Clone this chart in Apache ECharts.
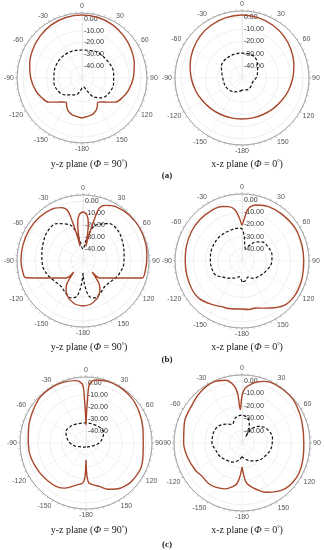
<!DOCTYPE html>
<html><head><meta charset="utf-8">
<script src="https://cdn.jsdelivr.net/npm/echarts@6/dist/echarts.min.js"></script>
<style>html,body{margin:0;padding:0;background:#fff}#c{width:324px;height:550px}</style>
</head><body><div id="c"></div>
<script>
// radius (dB) tick labels shown along the 0° spoke
const radiusTickLabels = [0, -10, -20, -30, -40];
const dbMin = -50, dbMax = 5, dbStep = 10;
const angleStep = 30;

// ---- (a) y-z plane ----
const aYZ_coAng = [-180,-165,-158,-152,-147,-142,-135,-126,-115,-105,-90,-75,-60,-45,-30,-15,0,15,30,45,60,75,90,105,115,126,135,142,147,152,158,165,180];
const aYZ_coDb  = [-16.2,-17.8,-19.5,-22.5,-25.5,-24.2,-21.2,-15.3,-11.8,-9.3,-6.6,-4.2,-1.9,0.2,1.9,3.0,3.3,3.0,1.9,0.2,-1.9,-4.2,-6.6,-9.3,-11.8,-15.3,-21.2,-24.2,-25.5,-22.5,-19.5,-17.8,-16.2];
const aYZ_xAng  = [-180,-170,-160,-147,-135,-120,-100,-80,-60,-40,-20,0,12,30,60,81,100,119,135,148,160,170,180];
const aYZ_xDb   = [-41.5,-38,-34.8,-33,-29.7,-27.2,-25.9,-26,-25.5,-25.5,-25.8,-26.3,-26,-24.6,-23.8,-22.9,-22.9,-23.8,-26.3,-31,-39,-42.4,-41.5];
// ---- (a) x-z plane ----
const aXZ_coAng = [-180,-165,-150,-135,-120,-105,-90,-75,-60,-45,-30,-15,0,15,30,45,60,75,90,105,120,135,150,165,180];
const aXZ_coDb  = [-16.3,-16.1,-15.4,-14.2,-12.6,-10.5,-8.3,-5.9,-3.5,-1.4,0.2,1.3,1.7,1.3,0.2,-1.4,-3.5,-5.9,-8.3,-10.5,-12.6,-14.2,-15.4,-16.1,-16.3];
const aXZ_xAng  = [-180,-170,-150,-120,-90,-60,-30,0,30,55,75,90,110,130,153,180];
const aXZ_xDb   = [-40.1,-38.9,-36.9,-34.9,-34.2,-30.5,-29.5,-29.5,-29.7,-34.4,-36.9,-38.5,-40.6,-40.1,-39.3,-40.1];
// ---- (b) y-z plane ----
const bYZ_coAng = [-180,-170,-160,-155,-150,-145,-143,-140,-135,-130,-125,-120,-115,-110,-106,-100,-90,-75,-60,-45,-31,-22,-17,-15,-13,-11,-8,-5,0,5,8,11,13,15,17,22,31,45,60,75,87,100,106,110,115,120,125,130,135,140,143,145,150,155,160,170,180];
const bYZ_coDb  = [-12.5,-13.4,-16.4,-18.7,-21.8,-26.3,-31,-38,-30,-28,-25.3,-21.7,-16.5,-8.6,0,1,1.7,1.8,1.8,1.5,0.5,-2,-6,-16.7,-27.5,-37.5,-18.3,-11.7,-9.2,-11.7,-18.3,-37.5,-27.5,-16.7,-4.2,0,2.8,4.3,4.7,4.2,3.3,2.5,1.3,-8.6,-16.5,-21.7,-25.3,-28,-30,-38,-31,-26.3,-21.8,-18.7,-16.4,-13.4,-12.5];
const bYZ_xAng  = [-180,-176,-170,-162,-150,-140,-125,-110,-95,-80,-65,-50,-35,-20,-10,0,10,20,35,50,65,80,95,110,117,125,140,150,162,170,176,180];
const bYZ_xDb   = [-40,-30,-20,-17.7,-20,-22,-21,-18,-16,-15.2,-13.5,-11.5,-12,-18,-30,-40,-30,-18,-12,-11.5,-13.5,-15.2,-16,-18,-19.2,-21,-22,-20,-17.7,-20,-30,-40];
// ---- (b) x-z plane ----
const bXZ_coAng = [-180,-172,-164,-156,-145,-131,-120,-105,-90,-75,-60,-45,-30,-20,-14,-8,-3,0,3,7,15,26,40,58,75,90,105,116,125,135,145,155,164,172,180];
const bXZ_coDb  = [-10.6,-10.2,-9.4,-9,-6.5,-3.2,-2.8,-3.2,-3.4,-2.8,-2,-1.6,-1.6,-2.4,-4,-7.3,-15.5,-20.4,-15.5,-6.5,-2.4,-0.3,0.5,1.3,0.9,0.7,1.3,1.7,1.7,0.7,-3.2,-7.3,-9.8,-9.8,-10.6];
const bXZ_xAng  = [-180,-170,-160,-142,-130,-118,-105,-90,-70,-50,-38,-20,-6,0,5,10,15,25,35,46,60,79,95,115,130,146,160,170,180];
const bXZ_xDb   = [-33,-36.9,-35.2,-32.1,-29.5,-25.4,-24.5,-24,-23.3,-22.9,-22.9,-22.9,-22.9,-23.7,-29.5,-36.9,-39.3,-36,-31.1,-27.3,-25.8,-24.9,-25.8,-29,-31.1,-32.8,-36,-33.6,-33];
// ---- (c) y-z plane ----
const cYZ_coAng = [-180,-179,-178,-176,-174,-167,-155,-146,-135,-123,-105,-90,-75,-60,-45,-30,-20,-10,-6,-3,-2,-1,0,1,2,3,6,10,20,30,45,60,75,90,105,116,130,136,145,155,162,170,174,176,178,179,180];
const cYZ_coDb  = [-36,-26.7,-21,-17,-16,-14,-8.5,-6.2,-5.2,-4.2,-2.5,-1.9,-0.5,1.5,4,4.5,4,2.8,1.5,-2,-14,-25,-35,-25,-14,-2,2,3.3,4.5,4.5,3.5,1.3,-1,-2.3,-1,0.3,-0.3,-1.3,-3.5,-7.5,-11.8,-14.5,-16,-16.7,-21,-26.7,-36];
const cYZ_xAng  = [-180,-165,-150,-135,-120,-105,-90,-75,-60,-45,-30,0,30,45,60,75,90,105,120,135,150,165,180];
const cYZ_xDb   = [-46.7,-46.5,-46,-45.3,-43.9,-40.5,-36.7,-33.5,-30.7,-31,-32,-33.3,-33,-32.7,-33,-36,-39,-42.5,-44.7,-45.8,-46.3,-46.5,-46.7];
// ---- (c) x-z plane ----
const cXZ_coAng = [-180,-177,-173,-168,-160,-149,-140,-130,-120,-105,-90,-70,-55,-40,-25,-15,-8,-5,-3,0,3,7,12,20,30,45,55,70,90,105,118,128,136,145,155,164,170,174,177,180];
const cXZ_coDb  = [-30.6,-24,-17,-14,-10.5,-8.3,-7.5,-8,-6.3,-4.5,-2.8,-0.5,0.5,3,4.5,2.5,-3,-10,-23,-12,-6,-3,0,3,4.5,4.5,3.6,1.5,0,1,2.2,2,1,-2,-6,-11.5,-15,-18,-24,-30.6];
const cXZ_xAng  = [-180,-170,-155,-139,-120,-105,-90,-70,-55,-40,-28,-15,0,15,25,30,35,45,60,80,100,115,136,155,170,180];
const cXZ_xDb   = [-39,-36,-33,-31.4,-29,-28,-25.7,-25.5,-26.5,-30,-33,-29,-27.5,-30,-36,-44,-36,-31,-27,-25,-26,-28,-30.5,-34,-37,-39];

const titlesYZ = 'y-z plane';
const titlesXZ = 'x-z plane';
const panelLabels = ['(a)', '(b)', '(c)'];

const panels = [
  {center:[82,78],  r:65, co:[aYZ_coAng,aYZ_coDb], x:[aYZ_xAng,aYZ_xDb]},
  {center:[242,78], r:67, co:[aXZ_coAng,aXZ_coDb], x:[aXZ_xAng,aXZ_xDb]},
  {center:[83,261], r:66, co:[bYZ_coAng,bYZ_coDb], x:[bYZ_xAng,bYZ_xDb]},
  {center:[242,261],r:67, co:[bXZ_coAng,bXZ_coDb], x:[bXZ_xAng,bXZ_xDb]},
  {center:[86,443], r:66, co:[cYZ_coAng,cYZ_coDb], x:[cYZ_xAng,cYZ_xDb]},
  {center:[242,443],r:68, co:[cXZ_coAng,cXZ_coDb], x:[cXZ_xAng,cXZ_xDb]}
];

function toData(ang, db){ return ang.map((a,i)=>[db[i], a<0 ? a+360 : a]); }

const polar=[], angleAxis=[], radiusAxis=[], series=[];
panels.forEach((p,i)=>{
  polar.push({center:p.center, radius:p.r});
  angleAxis.push({
    polarIndex:i, type:'value', min:0, max:360, interval:angleStep, startAngle:90, clockwise:true,
    axisLine:{lineStyle:{color:'#8a8a8a', width:0.8}},
    axisTick:{show:true, length:2, lineStyle:{color:'#8a8a8a', width:0.6}},
    minorTick:{show:true, splitNumber:6, length:2, lineStyle:{color:'#9a9a9a', width:0.5}},
    axisLabel:{fontSize:7, color:'#555', margin:3, fontFamily:'Liberation Sans',
      formatter:v=> (v>=180 ? String(v-360) : String(v))},
    splitLine:{show:true, lineStyle:{color:'#ececec', width:0.6}}
  });
  radiusAxis.push({
    polarIndex:i, type:'value', min:dbMin, max:dbMax, interval:dbStep,
    axisLine:{show:true, lineStyle:{color:'#dcdcdc', width:0.6}},
    axisTick:{show:false},
    axisLabel:{fontSize:7, color:'#333', margin:-2, align:'left', fontFamily:'Liberation Sans',
      formatter:v=> radiusTickLabels.indexOf(v)>=0 ? v.toFixed(2) : ''},
    splitLine:{show:true, lineStyle:{color:'#e4e4e4', width:0.6}}
  });
  series.push({type:'line', coordinateSystem:'polar', polarIndex:i, data:toData(p.x[0],p.x[1]),
    showSymbol:false, smooth:0.35, lineStyle:{color:'#111', width:1.2, type:[3,2]}, z:3});
  series.push({type:'line', coordinateSystem:'polar', polarIndex:i, data:toData(p.co[0],p.co[1]),
    showSymbol:false, smooth:0.35, lineStyle:{color:'#a8472c', width:1.4}, z:4});
});

const rich = {
  t:{fontFamily:'Liberation Serif', fontSize:10, fontWeight:'normal', color:'#222'},
  i:{fontFamily:'Liberation Serif', fontSize:10, fontWeight:'normal', fontStyle:'italic', color:'#222'},
  s:{fontFamily:'Liberation Serif', fontSize:6, fontWeight:'normal', color:'#222', verticalAlign:'top', padding:[0,0,5,0]}
};
const rowTitleY = [154, 337, 520];
const rowLabelY = [166, 350, 535];
const title = [];
rowTitleY.forEach((y,k)=>{
  title.push({text:'{t|'+titlesYZ+' (}{i|Φ}{t| = 90}{s|°}{t|)}', left:84, top:y, textAlign:'center', textStyle:{fontWeight:'normal', rich}});
  title.push({text:'{t|'+titlesXZ+' (}{i|Φ}{t| = 0}{s|°}{t|)}', left:242, top:y, textAlign:'center', textStyle:{fontWeight:'normal', rich}});
  title.push({text:panelLabels[k], left:162, top:rowLabelY[k], textAlign:'center',
    textStyle:{fontFamily:'Liberation Serif', fontSize:9, fontWeight:'bold', color:'#222'}});
});

const chart = echarts.init(document.getElementById('c'), null, {renderer:'canvas'});
chart.setOption({animation:false, backgroundColor:'#fff', title, polar, angleAxis, radiusAxis, series});
</script></body></html>
